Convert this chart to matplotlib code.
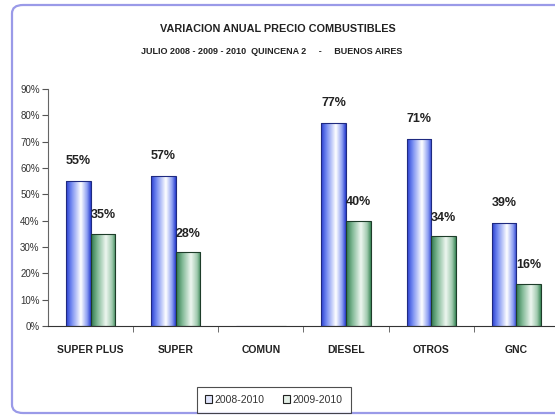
import numpy as np
import matplotlib
matplotlib.use("Agg")
import matplotlib.pyplot as plt
import matplotlib.patches as patches
from matplotlib.colors import LinearSegmentedColormap

categories = ["SUPER PLUS", "SUPER", "COMUN", "DIESEL", "OTROS", "GNC"]
serie_2008 = [55, 57, 0, 77, 71, 39]
serie_2009 = [35, 28, 0, 40, 34, 16]
labels_2008 = ["55%", "57%", "", "77%", "71%", "39%"]
labels_2009 = ["35%", "28%", "", "40%", "34%", "16%"]
series_names = ["2008-2010", "2009-2010"]
yticks = [0, 10, 20, 30, 40, 50, 60, 70, 80, 90]

plt.rcParams["font.family"] = ["Liberation Sans Narrow", "Liberation Sans", "DejaVu Sans"]

fig = plt.figure(figsize=(5.55, 4.18), dpi=100)

# rounded frame around the chart
frame = patches.FancyBboxPatch(
    (12 / 555, 5 / 418), 600 / 555, 408 / 418,
    boxstyle="round,pad=0,rounding_size=0.02",
    transform=fig.transFigure, facecolor="white",
    edgecolor="#9a9ae8", linewidth=1.6, zorder=-5,
)
fig.patches.append(frame)

ax = fig.add_axes([48 / 555, 1 - 326 / 418, 511 / 555, (326 - 89) / 418])
ax.patch.set_alpha(0)
ax.set_zorder(2)

x = np.arange(len(categories))
w = 0.29
bars1 = ax.bar(x - w / 2, serie_2008, w, color="none", edgecolor="#1f2a80", linewidth=0.8, zorder=3)
bars2 = ax.bar(x + w / 2, serie_2009, w, color="none", edgecolor="#1e3d2a", linewidth=0.8, zorder=3)

cm_blue = LinearSegmentedColormap.from_list(
    "b", [(0, "#2a3fd0"), (0.2, "#6f86f0"), (0.6, "#ffffff"), (0.85, "#8ea0f2"), (1, "#2a3fd0")])
cm_green = LinearSegmentedColormap.from_list(
    "g", [(0, "#2f7a4c"), (0.25, "#7fb894"), (0.6, "#eef6f0"), (0.85, "#a2cbb0"), (1, "#3d8a5a")])
grad = np.linspace(0, 1, 64).reshape(1, -1)

for bars, cmap in [(bars1, cm_blue), (bars2, cm_green)]:
    for b in bars:
        if b.get_height() <= 0:
            continue
        x0, y0 = b.get_x(), b.get_y()
        im = ax.imshow(grad, cmap=cmap, aspect="auto", zorder=2,
                       extent=[x0, x0 + b.get_width(), y0, y0 + b.get_height()])
        im.set_clip_path(b)

for b, t in zip(bars1, labels_2008):
    if t:
        ax.annotate(t, (b.get_x() + b.get_width() / 2, b.get_height()),
                    xytext=(0, 10), textcoords="offset points", ha="center",
                    va="bottom", fontsize=9, fontweight="bold", color="#222222")
for b, t in zip(bars2, labels_2009):
    if t:
        ax.annotate(t, (b.get_x() + b.get_width() / 2, b.get_height()),
                    xytext=(0, 9), textcoords="offset points", ha="center",
                    va="bottom", fontsize=9, fontweight="bold", color="#222222")

ax.set_xlim(-0.5, len(categories) - 0.5)
ax.set_ylim(0, 90)
ax.set_yticks(yticks)
ax.set_yticklabels([f"{v}%" for v in yticks], fontsize=7, color="#333333")
ax.set_xticks(x)
ax.set_xticklabels(categories, fontsize=7.5, fontweight="bold", color="#222222")
ax.tick_params(axis="x", length=0, pad=14)
ax.set_xticks(np.arange(0.5, len(categories) - 0.5, 1), minor=True)
ax.tick_params(axis="x", which="minor", length=4, direction="out", color="#555555")
ax.tick_params(axis="y", length=4, direction="out", color="#555555", pad=2)
for s in ["top", "right"]:
    ax.spines[s].set_visible(False)
ax.spines["left"].set_color("#666666")
ax.spines["bottom"].set_color("#333333")

fig.text(278 / 555, 1 - 29 / 418, "VARIACION ANUAL PRECIO COMBUSTIBLES",
         ha="center", va="center", fontsize=7.8, fontweight="bold", color="#222222")
fig.text(272 / 555, 1 - 52 / 418,
         "JULIO 2008 - 2009 - 2010  QUINCENA 2     -     BUENOS AIRES",
         ha="center", va="center", fontsize=6.5, fontweight="bold", color="#222222")

handles = [patches.Patch(facecolor="#dfe4fb", edgecolor="#222222", linewidth=0.8),
           patches.Patch(facecolor="#e3efe6", edgecolor="#222222", linewidth=0.8)]
leg = fig.legend(handles, series_names, loc="center", bbox_to_anchor=(274 / 555, 1 - 400 / 418),
                 ncol=2, fontsize=7.5, frameon=True, fancybox=False, edgecolor="#222222",
                 handlelength=0.6, handleheight=0.8, handletextpad=0.3, columnspacing=1.8,
                 borderpad=0.8)
leg.get_frame().set_linewidth(0.8)
for t in leg.get_texts():
    t.set_color("#333333")

fig.savefig("out.png", dpi=100)
